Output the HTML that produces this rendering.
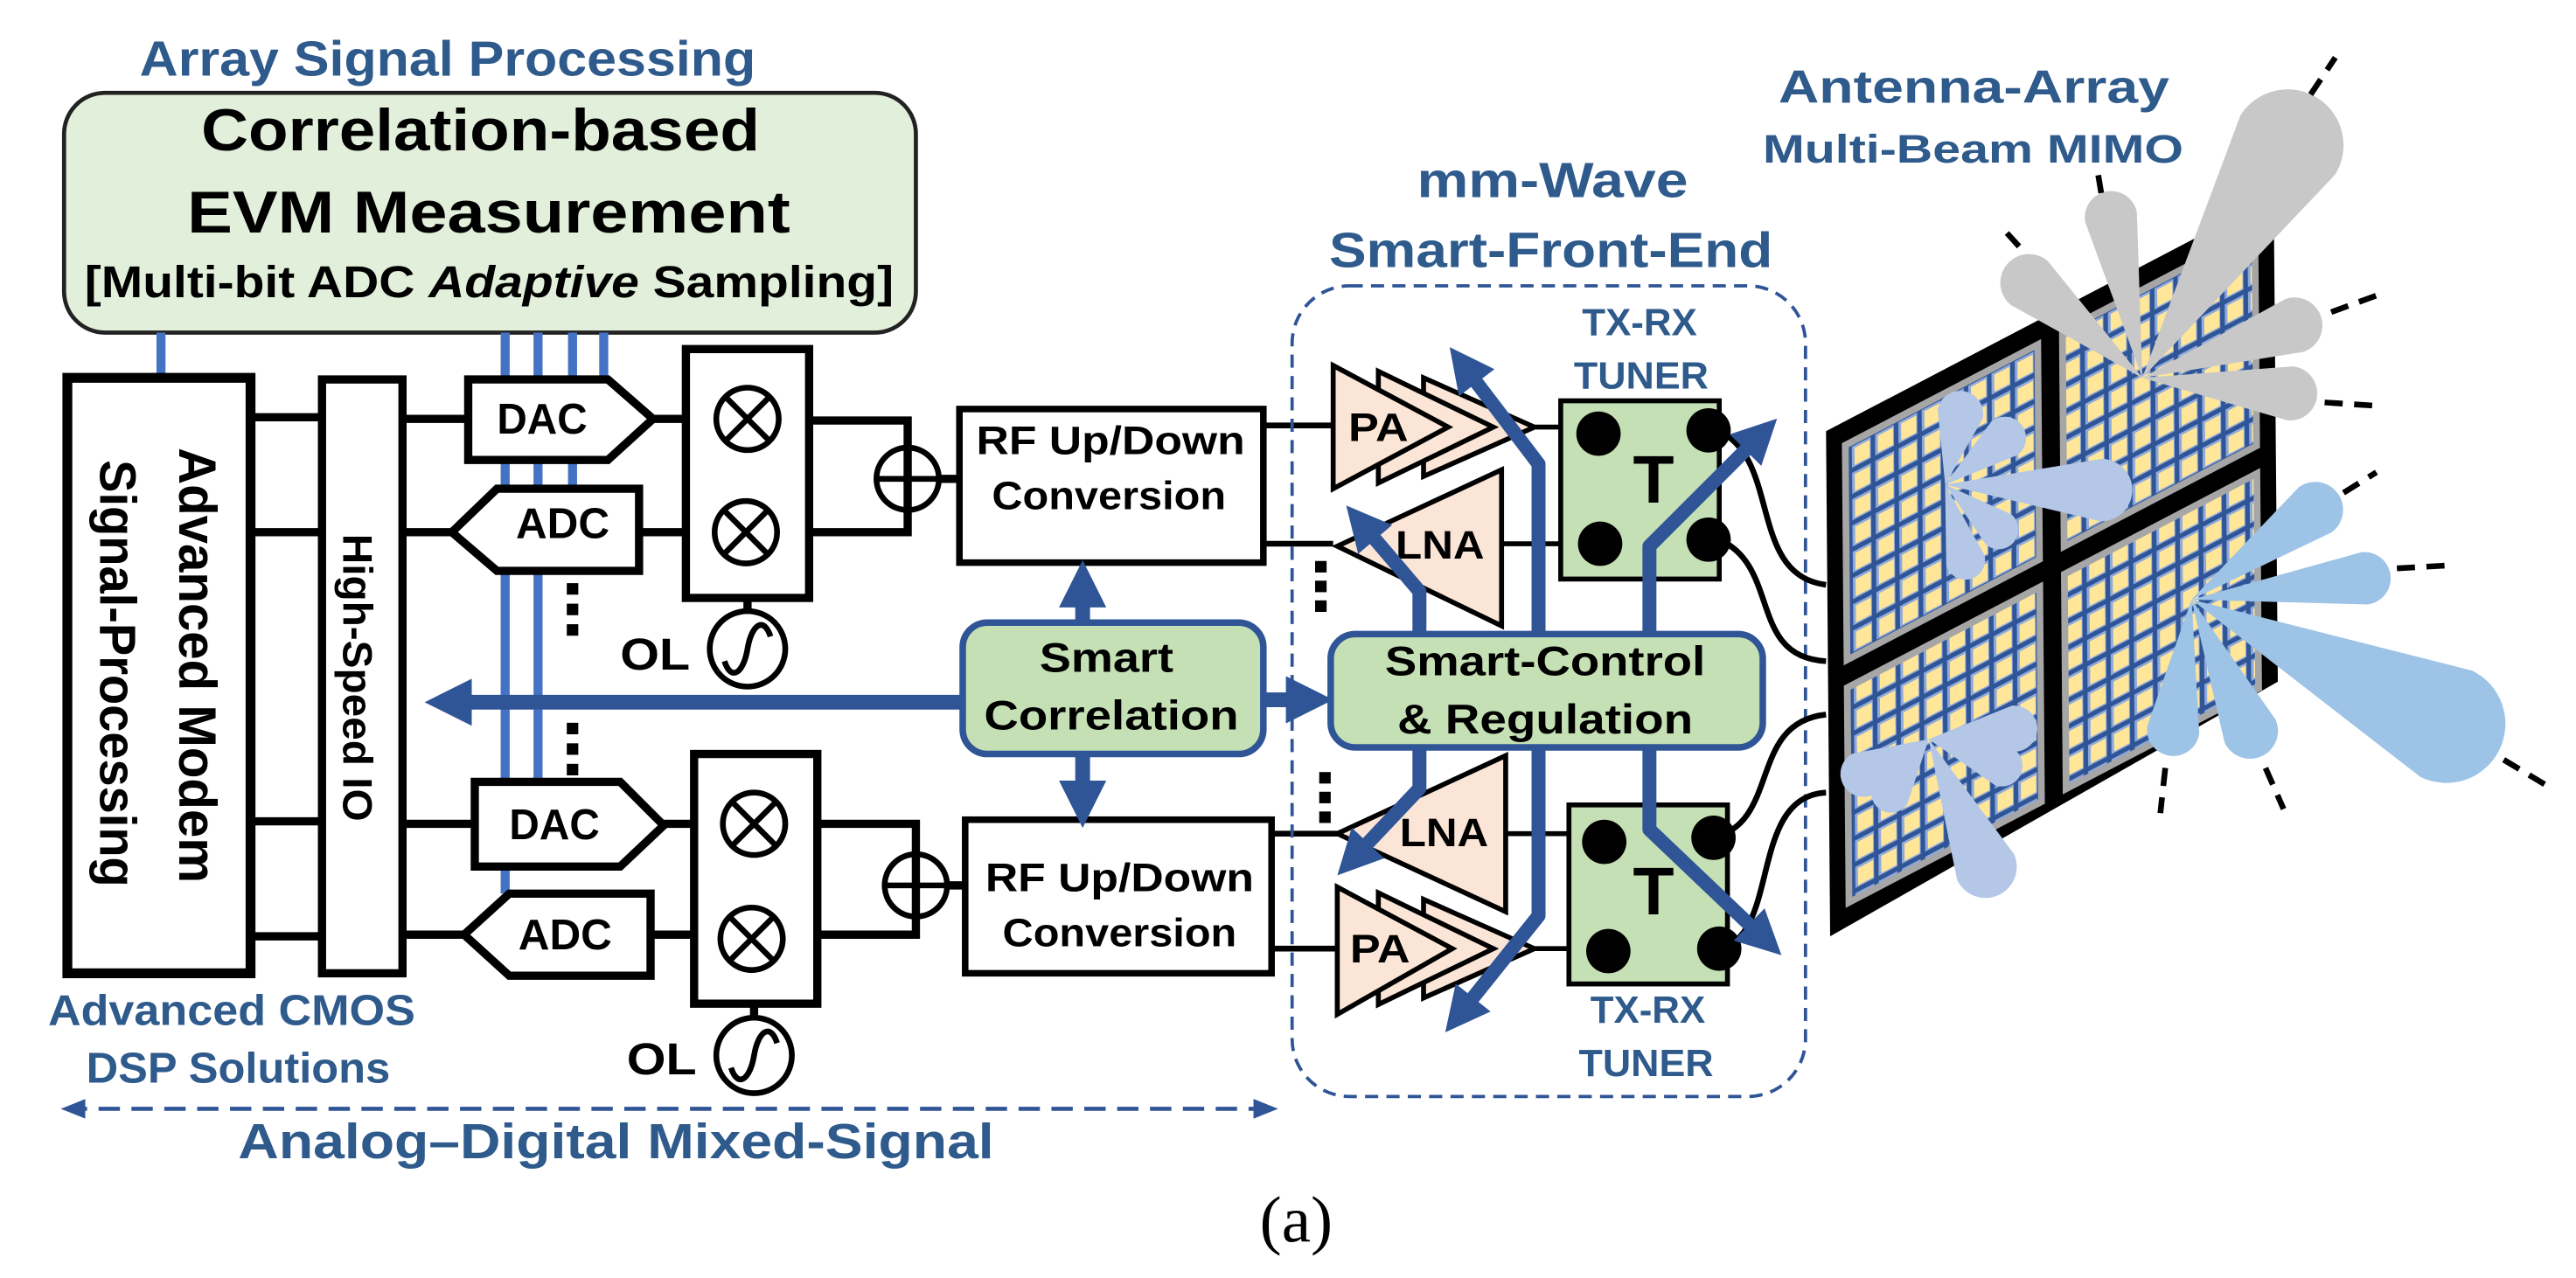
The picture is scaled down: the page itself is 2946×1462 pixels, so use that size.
<!DOCTYPE html>
<html><head><meta charset="utf-8"><style>
html,body{margin:0;padding:0;background:#fff;width:2946px;height:1462px;overflow:hidden}
svg{display:block}
text{font-family:"Liberation Sans",sans-serif;font-weight:bold}
.b{fill:#2e5a8c}
</style></head><body>
<svg width="2946" height="1462" viewBox="0 0 3136 1556" preserveAspectRatio="none" xmlns="http://www.w3.org/2000/svg">
<defs>
<marker id="ah" viewBox="0 0 10 10" refX="6" refY="5" markerWidth="3.2" markerHeight="3.2" orient="auto"><path d="M0,0 L10,5 L0,10 Z" fill="#2f5597"/></marker>
<marker id="sh" viewBox="0 0 10 10" refX="8" refY="5" markerWidth="6" markerHeight="6" orient="auto-start-reverse"><path d="M0,1 L10,5 L0,9 Z" fill="#2f5597"/></marker>
<pattern id="cells" patternUnits="userSpaceOnUse" width="5.2" height="5.2">
<rect width="5.2" height="5.2" fill="#2f5597"/>
<rect x="0.5" y="0.5" width="4.2" height="4.2" fill="#8ea9db"/>
<rect x="1.1" y="1.0" width="3.4" height="3.4" fill="#ffe699"/>
</pattern>
</defs>

<!-- LEFT HALF -->
<text x="545" y="92" font-size="60" class="b" text-anchor="middle" textLength="750" lengthAdjust="spacingAndGlyphs">Array Signal Processing</text>
<rect x="78" y="113" width="1037" height="292" rx="50" fill="#e2efda" stroke="#222" stroke-width="5"/>
<text x="585" y="183" font-size="72" text-anchor="middle" textLength="680" lengthAdjust="spacingAndGlyphs">Correlation-based</text>
<text x="595" y="283" font-size="72" text-anchor="middle" textLength="734" lengthAdjust="spacingAndGlyphs">EVM Measurement</text>
<text x="103" y="362" font-size="54" textLength="985" lengthAdjust="spacingAndGlyphs">[Multi-bit ADC <tspan font-style="italic">Adaptive</tspan> Sampling]</text>

<g stroke="#4472c4" stroke-width="11">
<line x1="196" y1="405" x2="196" y2="460"/>
<line x1="615" y1="405" x2="615" y2="1088"/>
<line x1="655" y1="405" x2="655" y2="952"/>
<line x1="697" y1="405" x2="697" y2="595"/>
<line x1="735" y1="405" x2="735" y2="462"/>
</g>

<rect x="82" y="460" width="223" height="725" fill="#fff" stroke="#000" stroke-width="12"/>
<text transform="translate(218,810) rotate(90)" font-size="64" text-anchor="middle" textLength="530" lengthAdjust="spacingAndGlyphs">Advanced Modem</text>
<text transform="translate(122,820) rotate(90)" font-size="62" text-anchor="middle" textLength="520" lengthAdjust="spacingAndGlyphs">Signal-Processing</text>
<rect x="392" y="462" width="98" height="723" fill="#fff" stroke="#000" stroke-width="10"/>
<text transform="translate(418,825) rotate(90)" font-size="50" text-anchor="middle" textLength="350" lengthAdjust="spacingAndGlyphs">High-Speed IO</text>

<g stroke="#000" stroke-width="10" fill="none">
<line x1="305" y1="508" x2="392" y2="508"/><line x1="305" y1="648" x2="392" y2="648"/>
<line x1="305" y1="1000" x2="392" y2="1000"/><line x1="305" y1="1140" x2="392" y2="1140"/>
<line x1="490" y1="510" x2="570" y2="510"/><line x1="490" y1="648" x2="550" y2="648"/>
<line x1="490" y1="1003" x2="578" y2="1003"/><line x1="490" y1="1138" x2="565" y2="1138"/>
<line x1="795" y1="510" x2="835" y2="510"/><line x1="778" y1="648" x2="835" y2="648"/>
<line x1="808" y1="1003" x2="845" y2="1003"/><line x1="792" y1="1138" x2="845" y2="1138"/>
<polyline points="985,512 1105,512 1105,648 985,648"/>
<polyline points="995,1003 1115,1003 1115,1138 995,1138"/>
<line x1="1145" y1="583" x2="1168" y2="583"/><line x1="1155" y1="1078" x2="1175" y2="1078"/>
<line x1="910" y1="728" x2="910" y2="745"/><line x1="918" y1="1222" x2="918" y2="1240"/>
</g>
<g stroke="#000" stroke-width="10" fill="#fff">
<polygon points="570,462 740,462 795,510 740,560 570,560"/>
<polygon points="550,648 605,595 778,595 778,695 605,695"/>
<polygon points="578,952 755,952 808,1005 755,1055 578,1055"/>
<polygon points="565,1138 620,1088 792,1088 792,1188 620,1188"/>
<rect x="835" y="425" width="150" height="303"/>
<rect x="845" y="918" width="150" height="304"/>
<rect x="1168" y="498" width="370" height="187" stroke-width="8"/>
<rect x="1175" y="998" width="373" height="187" stroke-width="8"/>
</g>
<g font-size="52" text-anchor="middle">
<text x="660" y="528" textLength="110" lengthAdjust="spacingAndGlyphs">DAC</text>
<text x="685" y="655" textLength="114" lengthAdjust="spacingAndGlyphs">ADC</text>
<text x="675" y="1022" textLength="110" lengthAdjust="spacingAndGlyphs">DAC</text>
<text x="688" y="1156" textLength="114" lengthAdjust="spacingAndGlyphs">ADC</text>
</g>
<!-- mixers -->
<g stroke="#000" stroke-width="7" fill="none">
<circle cx="910" cy="510" r="38"/><path d="M883,483 L937,537 M937,483 L883,537"/>
<circle cx="908" cy="648" r="38"/><path d="M881,621 L935,675 M935,621 L881,675"/>
<circle cx="918" cy="1003" r="38"/><path d="M891,976 L945,1030 M945,976 L891,1030"/>
<circle cx="915" cy="1143" r="38"/><path d="M888,1116 L942,1170 M942,1116 L888,1170"/>
<circle cx="1105" cy="583" r="38"/><path d="M1067,583 L1143,583 M1105,545 L1105,621"/>
<circle cx="1115" cy="1078" r="38"/><path d="M1077,1078 L1153,1078 M1115,1040 L1115,1116"/>
<circle cx="910" cy="790" r="46"/><path d="M882,805 C890,830 905,820 910,790 C915,760 930,750 938,775"/>
<circle cx="918" cy="1285" r="46"/><path d="M890,1300 C898,1325 913,1315 918,1285 C923,1255 938,1245 946,1270"/>
</g>
<text x="755" y="815" font-size="54" textLength="85" lengthAdjust="spacingAndGlyphs">OL</text>
<text x="763" y="1308" font-size="54" textLength="85" lengthAdjust="spacingAndGlyphs">OL</text>
<g fill="#000"><rect x="690" y="710" width="14" height="14"/><rect x="690" y="735" width="14" height="14"/><rect x="690" y="760" width="14" height="14"/>
<rect x="690" y="880" width="14" height="14"/><rect x="690" y="905" width="14" height="14"/><rect x="690" y="930" width="14" height="14"/></g>

<g font-size="48" text-anchor="middle">
<text x="1352" y="553" textLength="327" lengthAdjust="spacingAndGlyphs">RF Up/Down</text>
<text x="1350" y="620" textLength="285" lengthAdjust="spacingAndGlyphs">Conversion</text>
<text x="1363" y="1085" textLength="327" lengthAdjust="spacingAndGlyphs">RF Up/Down</text>
<text x="1363" y="1152" textLength="285" lengthAdjust="spacingAndGlyphs">Conversion</text>
</g>
<line x1="1538" y1="518" x2="1623" y2="518" stroke="#000" stroke-width="7"/>
<line x1="1538" y1="662" x2="1623" y2="662" stroke="#000" stroke-width="7"/>
<line x1="1548" y1="1015" x2="1628" y2="1015" stroke="#000" stroke-width="7"/>
<line x1="1548" y1="1155" x2="1628" y2="1155" stroke="#000" stroke-width="7"/>

<!-- blue arrows in middle -->
<g stroke="#2f5597" stroke-width="18" fill="none">
<line x1="1318" y1="760" x2="1318" y2="705" marker-end="url(#ah)"/>
<line x1="1318" y1="918" x2="1318" y2="985" marker-end="url(#ah)"/>
<line x1="1172" y1="855" x2="540" y2="855" marker-end="url(#ah)"/>
<line x1="1538" y1="852" x2="1600" y2="852" marker-end="url(#ah)"/>
</g>
<rect x="1172" y="758" width="366" height="160" rx="30" fill="#c5e0b4" stroke="#2f5597" stroke-width="8"/>
<text x="1347" y="818" font-size="50" text-anchor="middle" textLength="163" lengthAdjust="spacingAndGlyphs">Smart</text>
<text x="1353" y="888" font-size="50" text-anchor="middle" textLength="310" lengthAdjust="spacingAndGlyphs">Correlation</text>

<text x="282" y="1248" font-size="52" class="b" text-anchor="middle" textLength="447" lengthAdjust="spacingAndGlyphs">Advanced CMOS</text>
<text x="290" y="1318" font-size="52" class="b" text-anchor="middle" textLength="370" lengthAdjust="spacingAndGlyphs">DSP Solutions</text>
<line x1="80" y1="1350" x2="1550" y2="1350" stroke="#2f5597" stroke-width="5" stroke-dasharray="26,14" marker-start="url(#sh)" marker-end="url(#sh)"/>
<text x="750" y="1410" font-size="60" class="b" text-anchor="middle" textLength="920" lengthAdjust="spacingAndGlyphs">Analog–Digital Mixed-Signal</text>
<text x="1578" y="1512" font-size="80" text-anchor="middle" style="font-family:'Liberation Serif',serif;font-weight:normal">(a)</text>

<!-- RIGHT HALF -->
<g transform="translate(1568,0)">
<text x="322" y="240" font-size="60" class="b" text-anchor="middle" textLength="330" lengthAdjust="spacingAndGlyphs">mm-Wave</text>
<text x="320" y="325" font-size="60" class="b" text-anchor="middle" textLength="540" lengthAdjust="spacingAndGlyphs">Smart-Front-End</text>
<rect x="5" y="348" width="625" height="987" rx="70" fill="none" stroke="#2f5597" stroke-width="4" stroke-dasharray="16,10"/>
<g font-size="46" class="b" text-anchor="middle">
<text x="428" y="408" textLength="140" lengthAdjust="spacingAndGlyphs">TX-RX</text>
<text x="430" y="473" textLength="164" lengthAdjust="spacingAndGlyphs">TUNER</text>
<text x="438" y="1245" textLength="140" lengthAdjust="spacingAndGlyphs">TX-RX</text>
<text x="436" y="1310" textLength="164" lengthAdjust="spacingAndGlyphs">TUNER</text>
</g>
<text x="835" y="125" font-size="56" class="b" text-anchor="middle" textLength="476" lengthAdjust="spacingAndGlyphs">Antenna-Array</text>
<text x="834" y="198" font-size="48" class="b" text-anchor="middle" textLength="512" lengthAdjust="spacingAndGlyphs">Multi-Beam MIMO</text>

<g stroke="#000" stroke-width="6">
<line x1="300" y1="520" x2="332" y2="520"/><line x1="260" y1="662" x2="332" y2="662"/>
<line x1="265" y1="1015" x2="342" y2="1015"/><line x1="300" y1="1155" x2="342" y2="1155"/>
</g>
<g stroke="#000" stroke-width="6" fill="#fbe5d6">
<polygon points="165,460 165,580 300,520"/>
<polygon points="110,452 110,588 250,520"/>
<polygon points="55,445 55,595 195,520"/>
<polygon points="260,572 260,762 60,665"/>
<polygon points="265,920 265,1110 60,1015"/>
<polygon points="165,1095 165,1215 300,1155"/>
<polygon points="110,1087 110,1223 250,1155"/>
<polygon points="60,1080 60,1235 200,1155"/>
</g>
<g font-size="48" text-anchor="middle">
<text x="110" y="537" textLength="73" lengthAdjust="spacingAndGlyphs">PA</text>
<text x="185" y="680" textLength="108" lengthAdjust="spacingAndGlyphs">LNA</text>
<text x="190" y="1030" textLength="108" lengthAdjust="spacingAndGlyphs">LNA</text>
<text x="112" y="1172" textLength="73" lengthAdjust="spacingAndGlyphs">PA</text>
</g>
<g fill="#000"><rect x="33" y="683" width="14" height="14"/><rect x="33" y="707" width="14" height="14"/><rect x="33" y="731" width="14" height="14"/>
<rect x="38" y="940" width="14" height="14"/><rect x="38" y="964" width="14" height="14"/><rect x="38" y="988" width="14" height="14"/></g>

<rect x="332" y="488" width="193" height="217" fill="#c5e0b4" stroke="#000" stroke-width="6"/>
<rect x="342" y="980" width="193" height="218" fill="#c5e0b4" stroke="#000" stroke-width="6"/>
<g fill="#000">
<circle cx="378" cy="528" r="27"/><circle cx="512" cy="524" r="27"/><circle cx="380" cy="662" r="27"/><circle cx="512" cy="657" r="27"/>
<circle cx="385" cy="1025" r="27"/><circle cx="518" cy="1020" r="27"/><circle cx="390" cy="1158" r="27"/><circle cx="525" cy="1155" r="27"/>
</g>
<text x="445" y="612" font-size="82" text-anchor="middle">T</text>
<text x="445" y="1113" font-size="82" text-anchor="middle">T</text>
<g stroke="#000" stroke-width="7" fill="none">
<path d="M525,525 C600,560 560,700 655,712"/>
<path d="M525,657 C600,690 560,800 655,805"/>
<path d="M518,1020 C600,1000 560,880 655,870"/>
<path d="M525,1155 C600,1140 560,970 655,965"/>
</g>

<g stroke="#2f5597" stroke-width="17" fill="none" stroke-linejoin="round">
<polyline points="305,772 305,565 210,440" marker-end="url(#ah)"/>
<polyline points="160,772 160,720 85,632" marker-end="url(#ah)"/>
<polyline points="440,772 440,665 580,525" marker-end="url(#ah)"/>
<polyline points="160,910 160,960 75,1050" marker-end="url(#ah)"/>
<polyline points="305,910 305,1115 205,1240" marker-end="url(#ah)"/>
<polyline points="440,910 440,1010 585,1148" marker-end="url(#ah)"/>
</g>
<rect x="52" y="772" width="526" height="138" rx="30" fill="#c5e0b4" stroke="#2f5597" stroke-width="8"/>
<text x="313" y="822" font-size="50" text-anchor="middle" textLength="390" lengthAdjust="spacingAndGlyphs">Smart-Control</text>
<text x="313" y="893" font-size="50" text-anchor="middle" textLength="360" lengthAdjust="spacingAndGlyphs">&amp; Regulation</text>

<!-- antenna panels -->
<polygon points="655,525 1200,240 1205,830 660,1140" fill="#000"/>
<g transform="matrix(5.45,-2.85,0.05,6.15,655,525)">
<rect x="3.5" y="4" width="44.5" height="44" fill="#a6a6a6"/>
<rect x="52" y="4" width="44.5" height="44" fill="#a6a6a6"/>
<rect x="3.5" y="52" width="44.5" height="44" fill="#a6a6a6"/>
<rect x="52" y="52" width="44.5" height="44" fill="#a6a6a6"/>
<rect x="5" y="5.5" width="41.5" height="41" fill="url(#cells)"/>
<rect x="53.5" y="5.5" width="41.5" height="41" fill="url(#cells)"/>
<rect x="5" y="53.5" width="41.5" height="41" fill="url(#cells)"/>
<rect x="53.5" y="53.5" width="41.5" height="41" fill="url(#cells)"/>
</g>

<!-- beams -->
<g fill="#c8c8c8">
<path transform="translate(1040,460) rotate(-58)" d="M0 0 L334 -68 A68 68 0 1 1 334 68 Z"/>
<path transform="translate(1040,460) rotate(-101)" d="M0 0 L199 -32 A32 32 0 1 1 199 32 Z"/>
<path transform="translate(1040,460) rotate(-140)" d="M0 0 L180 -35 A35 35 0 1 1 180 35 Z"/>
<path transform="translate(1040,460) rotate(-19)" d="M0 0 L196 -34 A34 34 0 1 1 196 34 Z"/>
<path transform="translate(1040,460) rotate(6)" d="M0 0 L181 -33 A33 33 0 1 1 181 33 Z"/>
</g>
<g fill="#b4c7e7">
<path transform="translate(800,590) rotate(2)" d="M0 0 L190 -38 A38 38 0 1 1 190 38 Z"/>
<path transform="translate(800,590) rotate(-78)" d="M0 0 L88 -28 A28 28 0 1 1 88 28 Z"/>
<path transform="translate(800,590) rotate(-38)" d="M0 0 L92 -26 A26 26 0 1 1 92 26 Z"/>
<path transform="translate(800,590) rotate(75)" d="M0 0 L95 -24 A24 24 0 1 1 95 24 Z"/>
<path transform="translate(800,590) rotate(40)" d="M0 0 L85 -24 A24 24 0 1 1 85 24 Z"/>
<path transform="translate(780,900) rotate(66)" d="M0 0 L170 -38 A38 38 0 1 1 170 38 Z"/>
<path transform="translate(780,900) rotate(152)" d="M0 0 L90 -28 A28 28 0 1 1 90 28 Z"/>
<path transform="translate(780,900) rotate(-7)" d="M0 0 L105 -28 A28 28 0 1 1 105 28 Z"/>
<path transform="translate(780,900) rotate(125)" d="M0 0 L80 -24 A24 24 0 1 1 80 24 Z"/>
<path transform="translate(780,900) rotate(20)" d="M0 0 L95 -25 A25 25 0 1 1 95 25 Z"/>
</g>
<g fill="#9dc3e6">
<path transform="translate(1100,730) rotate(26)" d="M0 0 L345 -72 A72 72 0 1 1 345 72 Z"/>
<path transform="translate(1100,730) rotate(-36)" d="M0 0 L186 -34 A34 34 0 1 1 186 34 Z"/>
<path transform="translate(1100,730) rotate(-7)" d="M0 0 L212 -32 A32 32 0 1 1 212 32 Z"/>
<path transform="translate(1100,730) rotate(98)" d="M0 0 L160 -32 A32 32 0 1 1 160 32 Z"/>
<path transform="translate(1100,730) rotate(66)" d="M0 0 L175 -34 A34 34 0 1 1 175 34 Z"/>
</g>
<g stroke="#000" stroke-width="7" stroke-dasharray="22,14">
<line x1="1245" y1="115" x2="1275" y2="70"/>
<line x1="990" y1="235" x2="985" y2="205"/>
<line x1="890" y1="300" x2="870" y2="278"/>
<line x1="1270" y1="380" x2="1330" y2="358"/>
<line x1="1262" y1="490" x2="1325" y2="494"/>
<line x1="1285" y1="600" x2="1325" y2="575"/>
<line x1="1350" y1="692" x2="1420" y2="688"/>
<line x1="1480" y1="925" x2="1530" y2="955"/>
<line x1="1068" y1="935" x2="1062" y2="990"/>
<line x1="1190" y1="935" x2="1212" y2="985"/>
</g>
</g>
</svg>
</body></html>
